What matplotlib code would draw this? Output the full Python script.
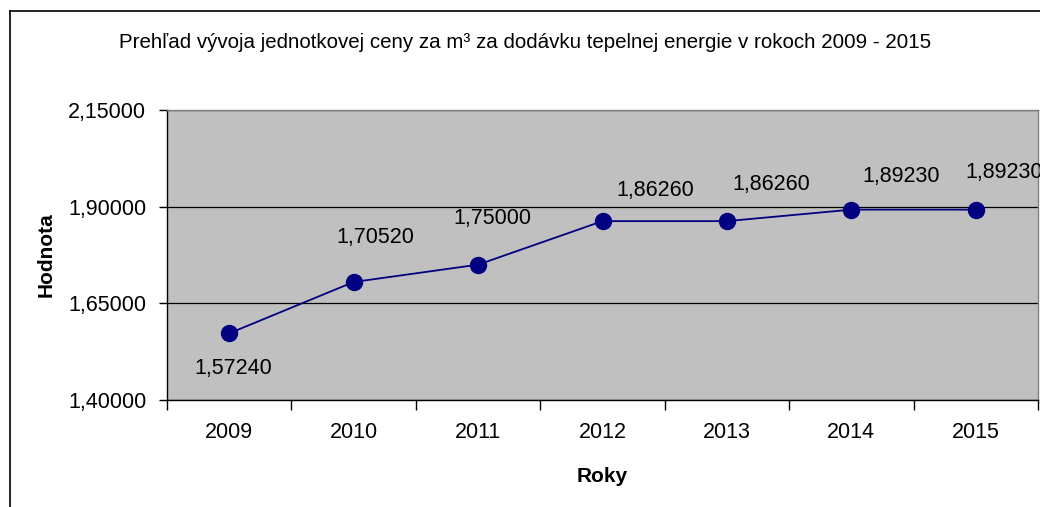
import matplotlib.pyplot as plt
import numpy as np
from matplotlib.lines import Line2D
from matplotlib.ticker import FixedLocator

plt.rcParams['font.family'] = ['Liberation Sans', 'DejaVu Sans']

# data
years = ['2009', '2010', '2011', '2012', '2013', '2014', '2015']
prices = [1.5724, 1.7052, 1.75, 1.8626, 1.8626, 1.8923, 1.8923]
y_ticks = [1.40, 1.65, 1.90, 2.15]

# label offsets in pixels (dx, dy) relative to the marker
label_offsets = [(4, -35), (22, 44), (14, 46), (53, 31), (44, 37), (50, 33), (28, 37)]

fig = plt.figure(figsize=(10.4, 5.07), dpi=100)
ax = fig.add_axes([167 / 1040, 1 - 400 / 507, 871 / 1040, 290 / 507])
ax.set_facecolor('#C0C0C0')

x = np.arange(len(years))
ax.plot(x, prices, color='#000080', lw=1.3, marker='o', markersize=11.5,
        markerfacecolor='#000080', markeredgecolor='#000080', zorder=3, clip_on=False)

for xi, v, (dx, dy) in zip(x, prices, label_offsets):
    ax.annotate(f"{v:.5f}".replace('.', ','), (xi, v), xytext=(dx * 0.72, dy * 0.72),
                textcoords='offset points', ha='center', va='center',
                fontsize=15.5, color='black', annotation_clip=False, zorder=4)

ax.set_xlim(-0.5, len(years) - 0.5)
ax.set_ylim(1.40, 2.15)

# category boundaries get tick marks, labels sit in the middle
ax.xaxis.set_major_locator(FixedLocator(np.arange(-0.5, len(years), 1.0)))
ax.xaxis.set_minor_locator(FixedLocator(x))
ax.set_xticklabels([])
ax.set_xticklabels(years, minor=True)
ax.tick_params(axis='x', which='major', direction='out', length=7, width=1, color='black')
ax.tick_params(axis='x', which='minor', length=0, pad=16, labelsize=15.5)

ax.set_yticks(y_ticks)
ax.set_yticklabels([f"{t:.5f}".replace('.', ',') for t in y_ticks])
ax.tick_params(axis='y', direction='out', length=6, width=1, color='black', pad=9, labelsize=15.5)

ax.grid(axis='y', color='black', lw=0.9)
ax.set_axisbelow(True)

for s in ['left', 'bottom']:
    ax.spines[s].set_color('black')
    ax.spines[s].set_linewidth(1.0)
for s in ['top', 'right']:
    ax.spines[s].set_color('#808080')
    ax.spines[s].set_linewidth(1.0)

ax.set_xlabel('Roky', fontsize=15, fontweight='bold', labelpad=17)
ax.set_ylabel('Hodnota', fontsize=15, fontweight='bold', labelpad=9)

fig.text(525 / 1040, 1 - 43 / 507,
         'Prehľad vývoja jednotkovej ceny za m³ za dodávku tepelnej energie v rokoch 2009 - 2015',
         ha='center', va='center', fontsize=14.8)

# outer chart border (left and top visible)
fig.add_artist(Line2D([9.5 / 1040, 9.5 / 1040], [0, 1 - 11 / 507], color='black', lw=1.2))
fig.add_artist(Line2D([9.5 / 1040, 1], [1 - 11 / 507, 1 - 11 / 507], color='black', lw=1.2))

fig.savefig('out.png', dpi=100, facecolor='white')
